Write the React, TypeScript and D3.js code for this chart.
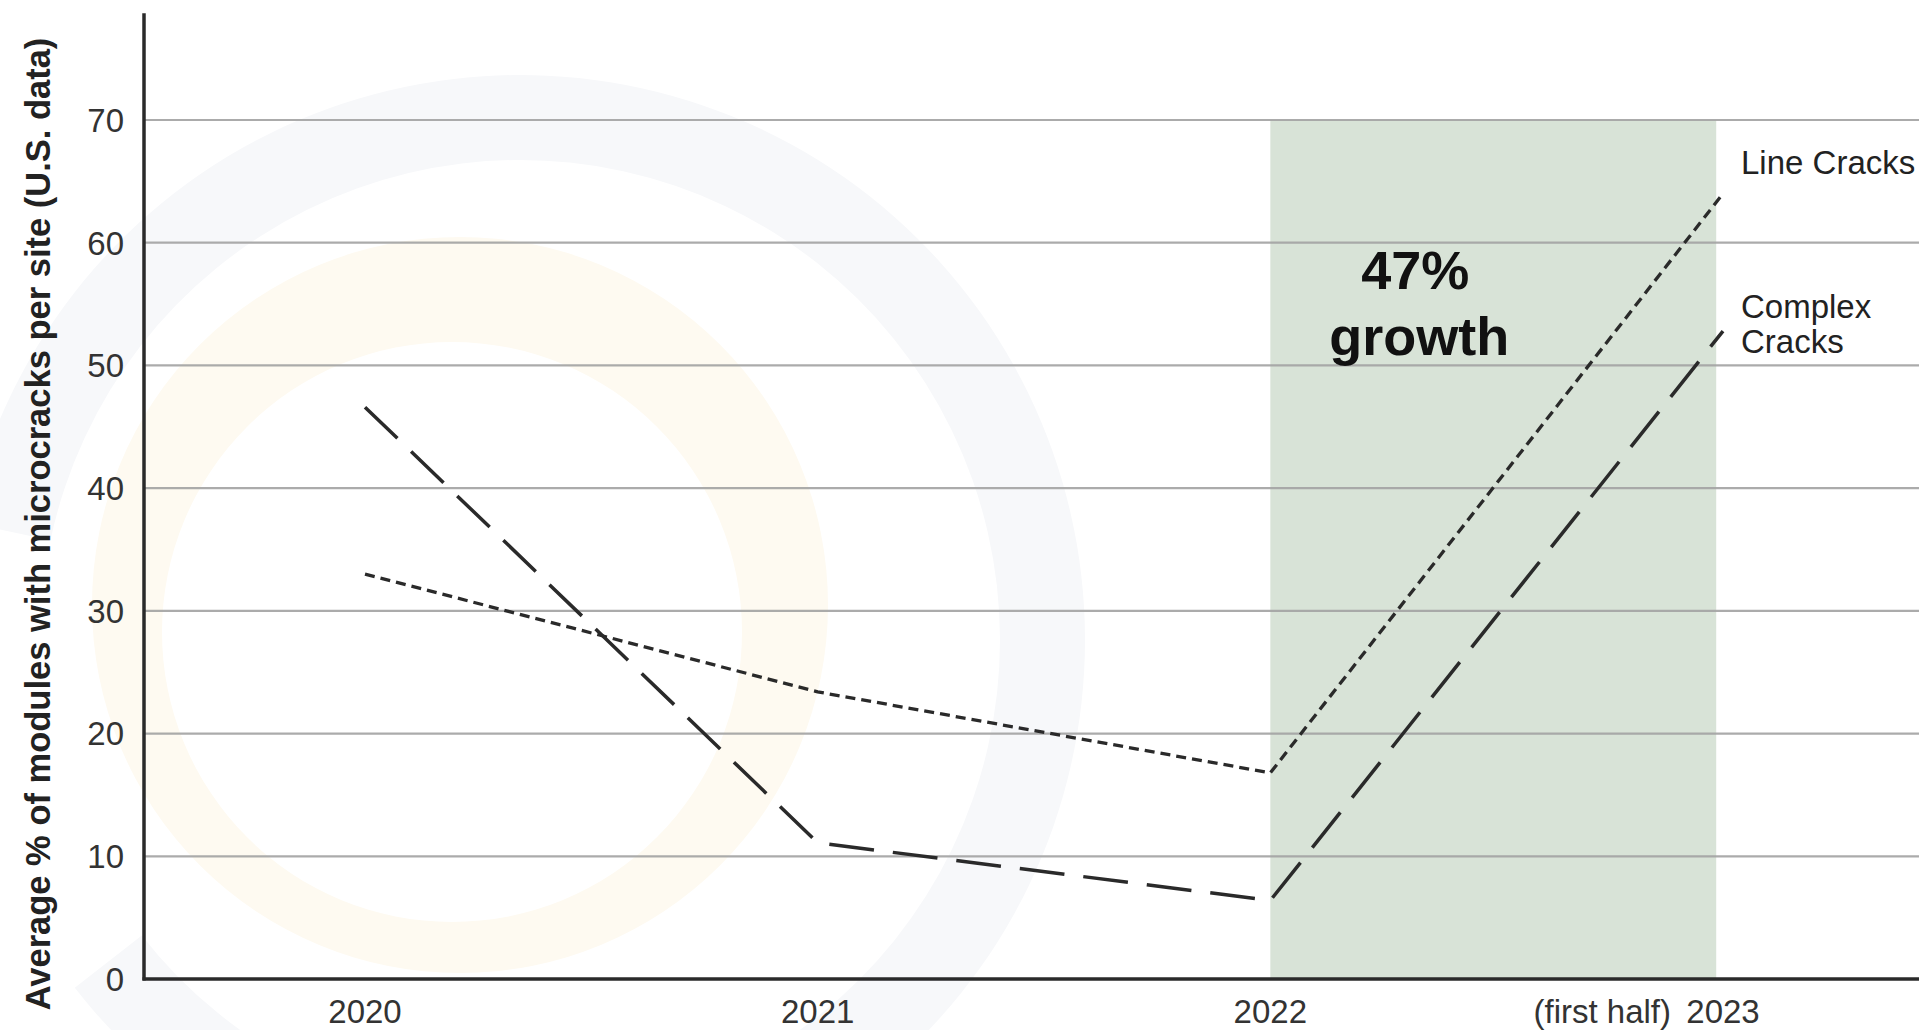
import React from "react";
import * as d3 from "d3";

// ---- data ----
const years = [2020, 2021, 2022, 2023];
const xTickLabels = ["2020", "2021", "2022", "2023"];
const lineCracks = [33.0, 23.4, 16.8, 64.0];
const complexCracks = [46.6, 11.1, 6.4, 52.8];
const yTicks = [0, 10, 20, 30, 40, 50, 60, 70];
const shadeRange = [2022, 2022.985];
const growthText = ["47%", "growth"];
const seriesNames = ["Line Cracks", "Complex Cracks"];
const yTitle = "Average % of modules with microcracks per site (U.S. data)";

const W = 1919;
const H = 1030;
const FONT = "'Liberation Sans', Arial, Helvetica, sans-serif";

export default function App() {
  const x = d3.scaleLinear().domain([2020, 2023]).range([365, 1723]);
  const y = d3.scaleLinear().domain([0, 70]).range([979, 120]);
  const axisX = 144;
  const axisTop = y(78.7);

  const line = d3
    .line<number>()
    .x((_, i) => x(years[i]))
    .y((d) => y(d));

  const grayRing = d3.arc()({
    innerRadius: 480,
    outerRadius: 565,
    startAngle: (-78 * Math.PI) / 180,
    endAngle: (232 * Math.PI) / 180,
  } as any) as string;

  const circ = (cx: number, cy: number, r: number) =>
    `M${cx - r},${cy}a${r},${r} 0 1,0 ${2 * r},0a${r},${r} 0 1,0 ${-2 * r},0Z`;

  const bx0 = x(shadeRange[0]);
  const bx1 = x(shadeRange[1]);
  const lastI = years.length - 1;

  return (
    <svg
      width={W}
      height={H}
      style={{ position: "absolute", left: 0, top: 0, display: "block", background: "#fff" }}
      fontFamily={FONT}
    >
      {/* faint watermark */}
      <path d={grayRing} transform="translate(520,640)" fill="#f7f8fa" />
      <path
        d={circ(460, 605, 368) + circ(452, 632, 290)}
        fill="#fefaf1"
        fillRule="evenodd"
      />

      {/* shaded band */}
      <rect x={bx0} y={y(70)} width={bx1 - bx0} height={y(0) - y(70)} fill="#d8e3d7" />

      {/* gridlines */}
      {yTicks.slice(1).map((t) => (
        <line key={t} x1={axisX} x2={W} y1={y(t)} y2={y(t)} stroke="#a3a3a3" strokeWidth={2.2} opacity={0.9} />
      ))}

      {/* y tick labels */}
      {yTicks.map((t) => (
        <text key={t} x={124} y={y(t)} dy="0.36em" textAnchor="end" fontSize={33} fill="#333">
          {t}
        </text>
      ))}

      {/* x tick labels */}
      {years.map((yr, i) => (
        <text key={yr} x={x(yr)} y={1023} textAnchor="middle" fontSize={33} fill="#333">
          {xTickLabels[i]}
        </text>
      ))}
      <text x={x(2023) - 52} y={1023} textAnchor="end" fontSize={33} fill="#333">
        (first half)
      </text>

      {/* series */}
      <path
        d={line(lineCracks) as string}
        fill="none"
        stroke="#2a2a2a"
        strokeWidth={3.3}
        strokeDasharray="10 6"
      />
      <path
        d={line(complexCracks) as string}
        fill="none"
        stroke="#2a2a2a"
        strokeWidth={3.5}
        strokeDasharray="45 19"
      />

      {/* series labels */}
      <text x={x(2023) + 18} y={y(lineCracks[lastI]) - 20} fontSize={33} fill="#222">
        {seriesNames[0]}
      </text>
      <text x={x(2023) + 18} y={y(complexCracks[lastI]) - 13} fontSize={33} fill="#222">
        <tspan x={x(2023) + 18}>Complex</tspan>
        <tspan x={x(2023) + 18} dy={35}>Cracks</tspan>
      </text>

      {/* growth annotation */}
      <text x={bx0 + 145} y={289} textAnchor="middle" fontSize={54} fontWeight="bold" fill="#111">
        {growthText[0]}
      </text>
      <text x={bx0 + 149} y={355} textAnchor="middle" fontSize={54} fontWeight="bold" fill="#111">
        {growthText[1]}
      </text>

      {/* axes */}
      <line x1={axisX} x2={axisX} y1={axisTop} y2={y(0) + 1.5} stroke="#2a2a2a" strokeWidth={3.5} />
      <line x1={axisX - 1.5} x2={W} y1={y(0)} y2={y(0)} stroke="#2a2a2a" strokeWidth={3.5} />

      {/* y title */}
      <text
        transform="translate(50,524) rotate(-90)"
        textAnchor="middle"
        fontSize={34.5}
        fontWeight="bold"
        fill="#222"
      >
        {yTitle}
      </text>
    </svg>
  );
}
